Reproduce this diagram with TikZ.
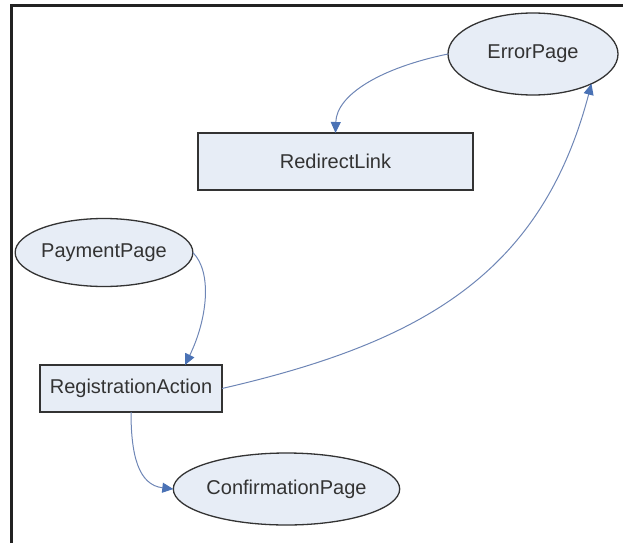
\documentclass[tikz,border=0pt]{standalone}
\usepackage{fontspec}
\setmainfont{Liberation Sans}
\usetikzlibrary{arrows.meta,shapes.geometric}
\definecolor{nodefill}{HTML}{E7EDF6}
\definecolor{nodeline}{HTML}{333333}
\definecolor{edgeline}{HTML}{6E86B6}
\definecolor{tipfill}{HTML}{4A72B5}
\definecolor{frameline}{HTML}{222222}
\tikzset{
  every node/.style={font=\fontsize{20}{24}\selectfont, text=nodeline},
  pagenode/.style={ellipse, draw=nodeline, fill=nodefill, line width=1.3pt,
    inner sep=0pt, outer sep=0pt},
  actionbox/.style={rectangle, draw=nodeline, fill=nodefill, line width=1.3pt,
    inner sep=0pt, outer sep=0pt},
  flow/.style={draw=edgeline, line width=1pt,
    -{Triangle[length=11pt,width=10pt,color=tipfill,fill=tipfill]}},
}
\begin{document}
\begin{tikzpicture}[x=1pt, y=-1pt]
  \useasboundingbox (0,0) rectangle (623,543);

  % frame on the top and left
  \coordinate (fb) at (11.5,543);
  \coordinate (fc) at (11.5,5.5);
  \coordinate (fr) at (623,5.5);
  \draw[frameline, line width=2.2pt] (fb) -- (fc) -- (fr);

  % nodes
  \node[pagenode, minimum width=170pt, minimum height=82pt] (err) at (533,54) {ErrorPage};
  \node[actionbox, minimum width=275pt, minimum height=57pt] (redir) at (335.5,161.5) {RedirectLink};
  \node[pagenode, minimum width=170pt, minimum height=68pt] (pay) at (104,252.5) {PaymentPage};
  \node[actionbox, minimum width=182pt, minimum height=47pt] (reg) at (131,388.5) {RegistrationAction};
  \node[pagenode, minimum width=213pt, minimum height=72pt] (conf) at (286.5,489) {ConfirmationPage};

  % connectors
  \draw[flow] (err.west) .. controls +(-68,14) and +(1,-38) .. (redir.north);
  \draw[flow] (pay.east) .. controls +(20,20) and +(22,-45) .. ([xshift=54pt]reg.north);
  \draw[flow] (reg.east) .. controls +(200,-46) and +(-50,190) .. (err.-27);
  \draw[flow] (reg.south) .. controls +(0,43) and +(-35,-4) .. (conf.west);
\end{tikzpicture}
\end{document}
